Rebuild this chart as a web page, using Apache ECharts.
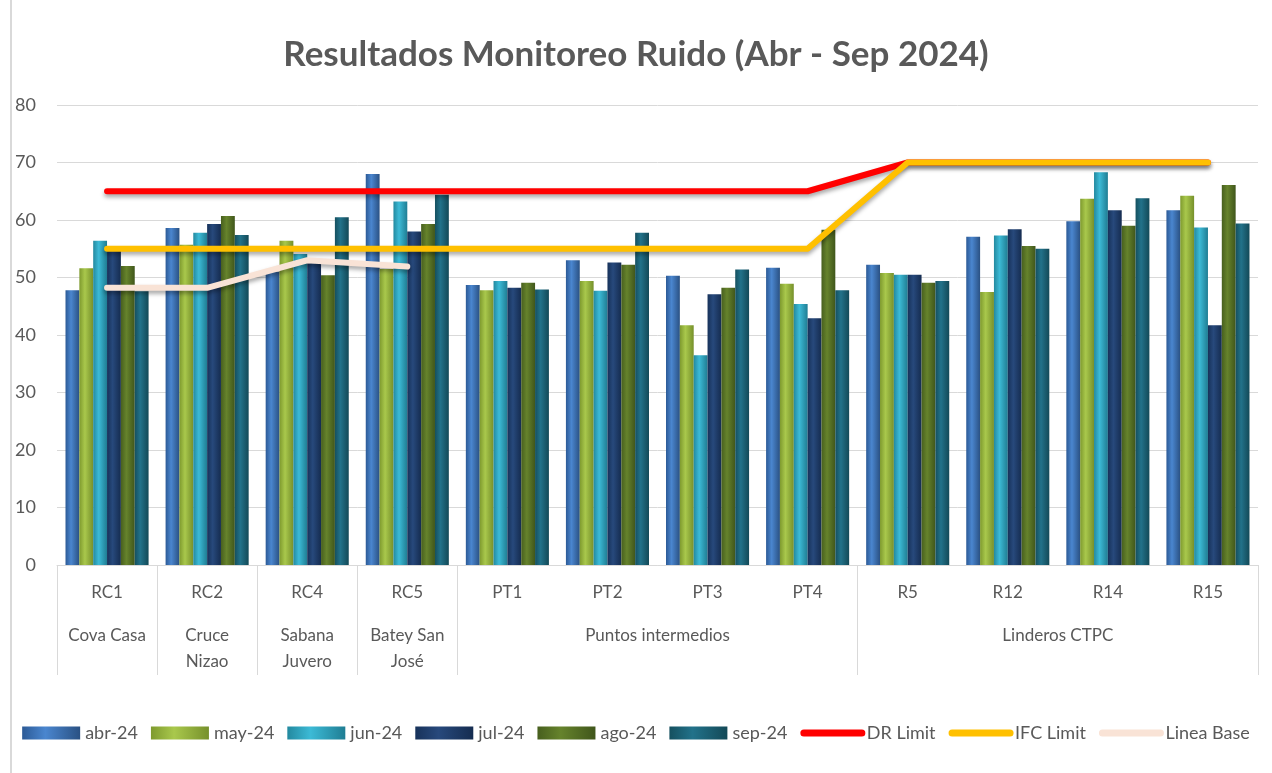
<!DOCTYPE html>
<html lang="es" style="height: 100%">
<head>
  <meta charset="utf-8">
</head>
<body style="height: 100%; margin: 0; background: #fff">
  <div style="position: relative; width: 1272px; height: 773px">
    <div style="position: absolute; left: 10px; top: 0; width: 2px; height: 773px; background: #d9d9d9"></div>
    <div id="container" style="position: absolute; left: 0; top: 0; width: 1272px; height: 773px"></div>
  </div>

  <script type="text/javascript" src="https://cdn.jsdelivr.net/npm/echarts@6/dist/echarts.min.js"></script>
  <script type="text/javascript">
    // puntos de monitoreo
    var puntos = ['RC1', 'RC2', 'RC4', 'RC5', 'PT1', 'PT2', 'PT3', 'PT4', 'R5', 'R12', 'R14', 'R15'];
    // segundo nivel del eje: nombre y posicion (centro del grupo, en unidades de categoria)
    var grupos = ['Cova Casa', 'Cruce\nNizao', 'Sabana\nJuvero', 'Batey San\nJosé', 'Puntos intermedios', 'Linderos CTPC'];
    var gruposPos = [0.5, 1.5, 2.5, 3.5, 6, 10];
    var gruposLimites = [0, 1, 2, 3, 4, 8, 12];

    var meses = ['abr-24', 'may-24', 'jun-24', 'jul-24', 'ago-24', 'sep-24'];
    var abr24 = [47.8, 58.6, 51.0, 68.0, 48.7, 53.0, 50.3, 51.7, 52.2, 57.1, 59.8, 61.7];
    var may24 = [51.6, 55.7, 56.4, 51.5, 47.8, 49.4, 41.7, 48.9, 50.8, 47.5, 63.7, 64.2];
    var jun24 = [56.4, 57.8, 54.1, 63.2, 49.4, 47.7, 36.5, 45.4, 50.5, 57.3, 68.3, 58.7];
    var jul24 = [54.8, 59.3, 52.5, 58.0, 48.2, 52.6, 47.1, 42.9, 50.5, 58.4, 61.7, 41.7];
    var ago24 = [52.0, 60.7, 50.4, 59.3, 49.1, 52.2, 48.2, 58.3, 49.1, 55.5, 59.0, 66.1];
    var sep24 = [47.6, 57.4, 60.5, 64.4, 47.9, 57.8, 51.4, 47.8, 49.4, 55.0, 63.8, 59.4];

    var drLimit = [65, 65, 65, 65, 65, 65, 65, 65, 70, 70, 70, 70];
    var ifcLimit = [55, 55, 55, 55, 55, 55, 55, 55, 70, 70, 70, 70];
    var lineaBase = [48.2, 48.2, 53.0, 51.9, null, null, null, null, null, null, null, null];

    var coloresBarras = [
      ['#2c5a96', '#4a86cf', '#2a5183'],
      ['#7e9a2e', '#a9c84c', '#76902b'],
      ['#23899f', '#3cbad6', '#1f7d93'],
      ['#17325a', '#27497c', '#152c50'],
      ['#475f1e', '#66832c', '#40561b'],
      ['#15505f', '#22728a', '#134957']
    ];

    function cilindro(c) {
      return new echarts.graphic.LinearGradient(0, 0, 1, 0, [
        { offset: 0, color: c[0] },
        { offset: 0.4, color: c[1] },
        { offset: 1, color: c[2] }
      ]);
    }

    var dom = document.getElementById('container');
    var myChart = echarts.init(dom, null, { renderer: 'canvas' });

    var txt = '#595959';
    var fuente = 'Lato, "Open Sans", sans-serif';
    var datosMes = [abr24, may24, jun24, jul24, ago24, sep24];

    var series = meses.map(function (m, i) {
      return {
        name: m,
        type: 'bar',
        data: datosMes[i],
        barGap: '0%',
        barCategoryGap: '17%',
        itemStyle: {
          color: cilindro(coloresBarras[i]),
          shadowColor: 'rgba(0,0,0,0.25)',
          shadowBlur: 3,
          shadowOffsetX: 1
        }
      };
    });

    function linea(nombre, datos, color, z) {
      return {
        name: nombre,
        type: 'line',
        data: datos,
        symbol: 'none',
        z: z,
        connectNulls: false,
        lineStyle: {
          width: 6,
          color: color,
          cap: 'round',
          join: 'round',
          shadowColor: 'rgba(0,0,0,0.35)',
          shadowBlur: 4,
          shadowOffsetY: 3
        },
        itemStyle: { color: color }
      };
    }
    series.push(linea('DR Limit', drLimit, '#ff0000', 3));
    series.push(linea('IFC Limit', ifcLimit, '#ffc000', 4));
    series.push(linea('Linea Base', lineaBase, '#f9e3d6', 5));

    var leyendaLineas = ['DR Limit', 'IFC Limit', 'Linea Base'].map(function (n) {
      return {
        name: n,
        itemStyle: { opacity: 0 },
        lineStyle: { width: 7, cap: 'round', shadowBlur: 0, shadowOffsetY: 0 }
      };
    });

    var option = {
      textStyle: { fontFamily: fuente },
      title: {
        text: 'Resultados Monitoreo Ruido (Abr - Sep 2024)',
        left: 'center',
        top: 32,
        textStyle: { fontFamily: fuente, fontSize: 35, fontWeight: 'bold', color: txt }
      },
      legend: {
        bottom: 26,
        left: 'center',
        itemWidth: 58,
        itemHeight: 13,
        itemGap: 13,
        textStyle: { fontFamily: fuente, fontSize: 18, color: txt },
        data: meses.map(function (m) { return { name: m, icon: 'rect' }; })
          .concat(leyendaLineas)
      },
      grid: { left: 57, right: 14, top: 105, bottom: 208 },
      xAxis: [
        {
          type: 'category',
          data: puntos,
          axisLine: { lineStyle: { color: '#d9d9d9' } },
          axisTick: { show: false },
          axisLabel: { color: txt, fontSize: 17, margin: 19, fontFamily: fuente }
        },
        {
          type: 'value',
          min: 0,
          max: 12,
          position: 'bottom',
          axisLine: { show: false },
          splitLine: { show: false },
          axisTick: {
            show: true,
            customValues: gruposLimites,
            length: 110,
            lineStyle: { color: '#d9d9d9' }
          },
          axisLabel: {
            customValues: gruposPos,
            color: txt,
            fontSize: 17,
            fontFamily: fuente,
            lineHeight: 26,
            verticalAlign: 'top',
            margin: 58,
            formatter: function (v) {
              var k = gruposPos.indexOf(v);
              return k >= 0 ? grupos[k] : '';
            }
          }
        }
      ],
      yAxis: {
        type: 'value',
        min: 0,
        max: 80,
        interval: 10,
        axisLine: { show: false },
        axisTick: { show: false },
        axisLabel: { color: txt, fontSize: 18, margin: 21, fontFamily: fuente },
        splitLine: { lineStyle: { color: '#d9d9d9' } }
      },
      series: series
    };

    myChart.setOption(option);
    window.addEventListener('resize', myChart.resize);
  </script>
</body>
</html>
